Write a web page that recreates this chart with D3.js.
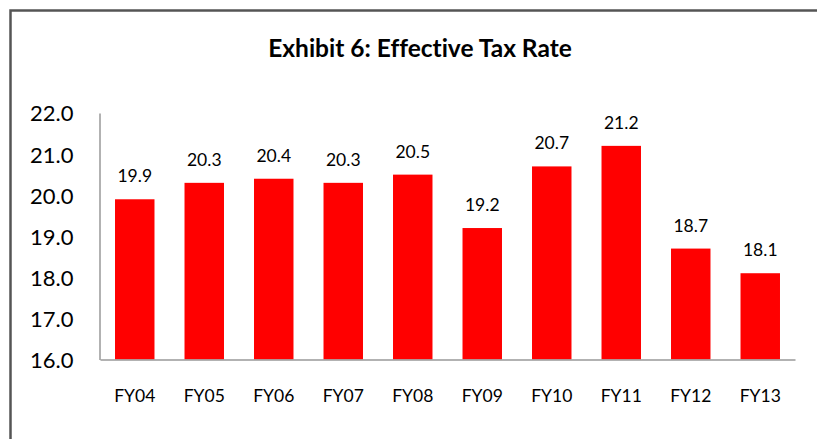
<!DOCTYPE html>
<html>
<head>
<meta charset="utf-8">
<script src="https://cdn.jsdelivr.net/npm/d3@7"></script>
<style>
  html, body { margin: 0; padding: 0; background: #fff; }
  svg { display: block; }
  text { font-variant-ligatures: none; }
</style>
</head>
<body>
<svg id="chart" width="817" height="439"></svg>
<script>
const title = "Exhibit 6: Effective Tax Rate";
const categories = ["FY04", "FY05", "FY06", "FY07", "FY08", "FY09", "FY10", "FY11", "FY12", "FY13"];
const values = [19.9, 20.3, 20.4, 20.3, 20.5, 19.2, 20.7, 21.2, 18.7, 18.1];
const yTicks = [16, 17, 18, 19, 20, 21, 22];
const yDomain = [16, 22];

const svg = d3.select("#chart");
const font = "Lato, 'Open Sans', sans-serif";

// outer frame
svg.append("rect")
  .attr("x", 10.5).attr("y", 10.5)
  .attr("width", 830).attr("height", 460)
  .attr("fill", "#fff")
  .attr("stroke", "#555").attr("stroke-width", 2.5);

svg.append("text")
  .attr("x", 420).attr("y", 57)
  .attr("text-anchor", "middle")
  .attr("font-family", font).attr("font-weight", "bold")
  .attr("font-size", 24.5).attr("fill", "#000")
  .text(title);

const x = d3.scaleBand().domain(categories).range([100, 795])
  .paddingInner(0.432).paddingOuter(0.216);
const y = d3.scaleLinear().domain(yDomain).range([359.5, 113]);

// bars
svg.append("g").selectAll("rect").data(values).join("rect")
  .attr("x", (d, i) => x(categories[i]))
  .attr("y", d => y(d))
  .attr("width", x.bandwidth())
  .attr("height", d => y(yDomain[0]) - y(d))
  .attr("fill", "#ff0000");

// value labels
svg.append("g").selectAll("text").data(values).join("text")
  .attr("x", (d, i) => x(categories[i]) + x.bandwidth() / 2)
  .attr("y", d => y(d) - 17)
  .attr("text-anchor", "middle")
  .attr("font-family", font).attr("font-size", 17.5).attr("fill", "#000")
  .text(d => d.toFixed(1));

// y axis
const yAxis = svg.append("g").attr("transform", "translate(99.5,0)")
  .call(d3.axisLeft(y).tickValues(yTicks).tickSize(0).tickPadding(26).tickFormat(d3.format(".1f")));
yAxis.select(".domain").attr("stroke", "#999").attr("stroke-width", 1.5);
yAxis.selectAll("text").attr("font-family", font).attr("font-size", 22).attr("fill", "#000").attr("dy", "0.36em");

// x axis
const xAxis = svg.append("g").attr("transform", "translate(0,359.5)")
  .call(d3.axisBottom(x).tickSize(0).tickPadding(30));
xAxis.select(".domain").attr("stroke", "#999").attr("stroke-width", 1.5);
xAxis.selectAll("text").attr("font-family", font).attr("font-size", 17.5).attr("fill", "#000");
</script>
</body>
</html>
